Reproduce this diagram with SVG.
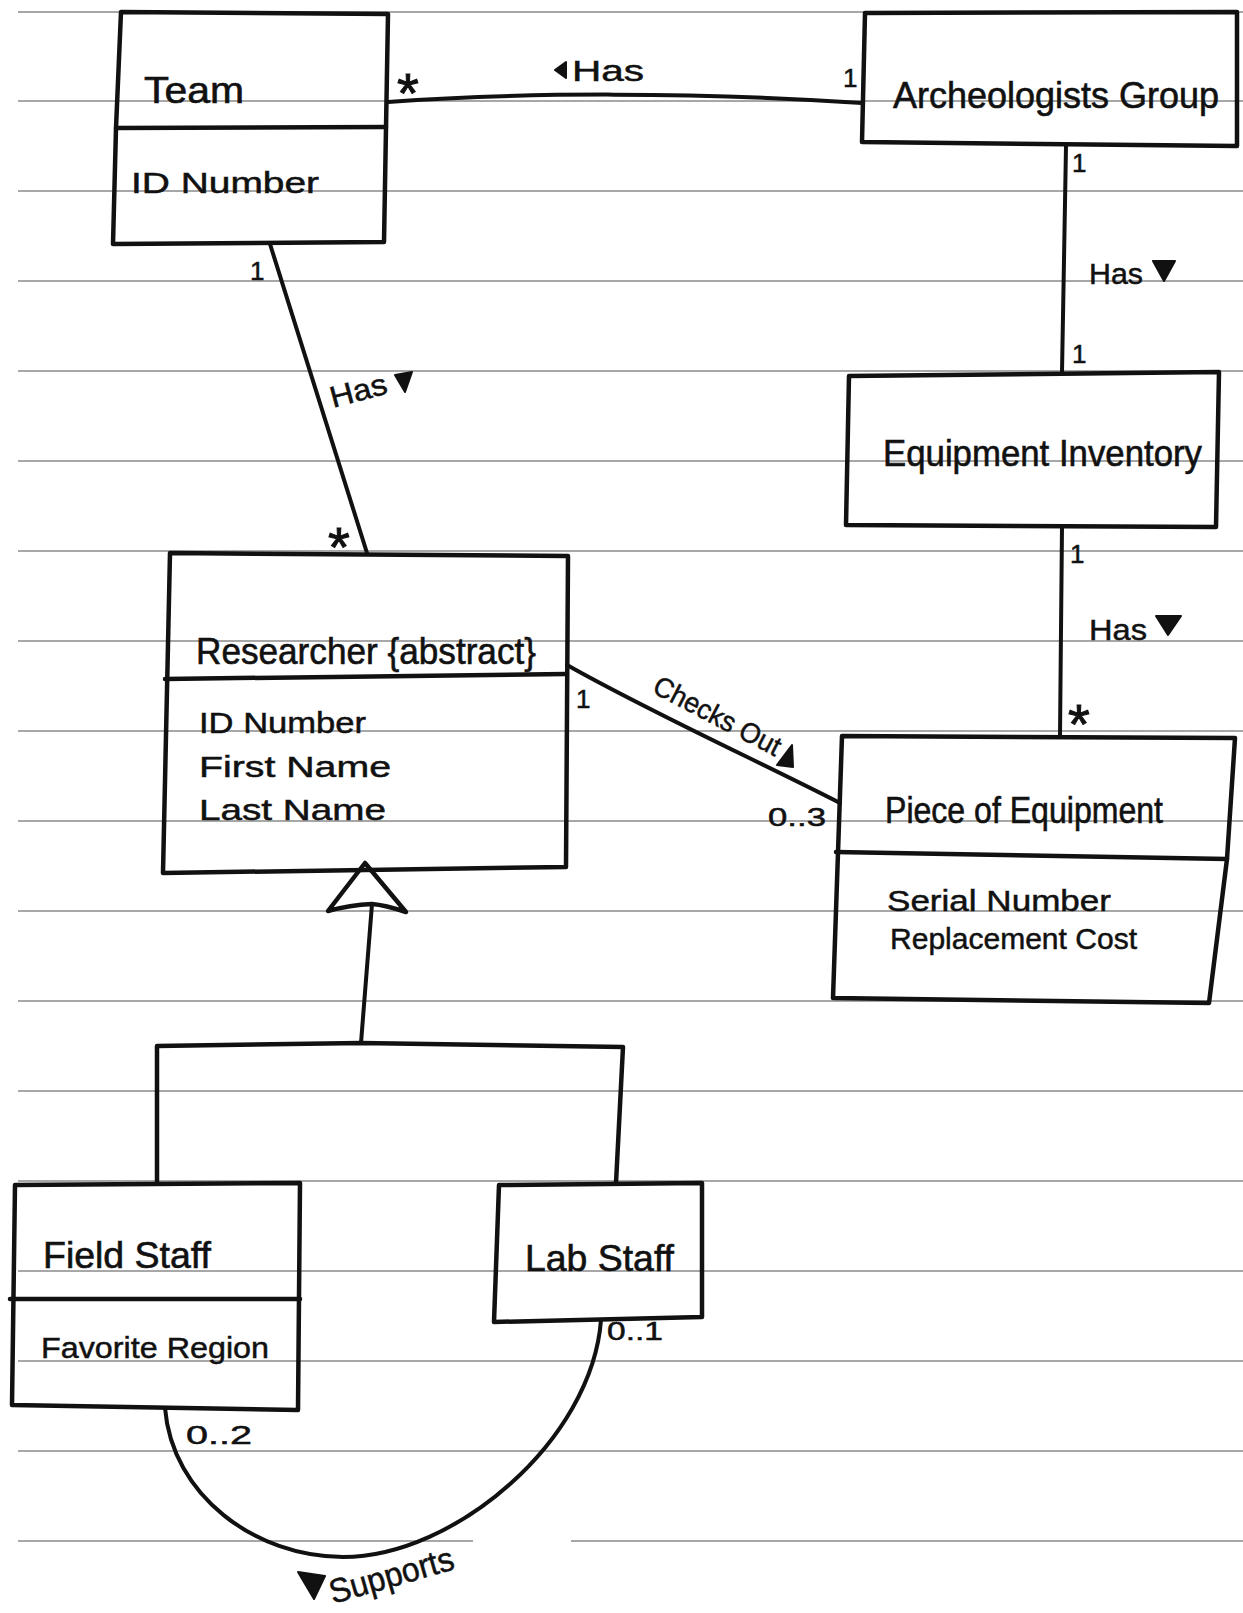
<svg xmlns="http://www.w3.org/2000/svg" width="1243" height="1613" viewBox="0 0 1243 1613">
<style>
.paper{stroke:#8a8a8a;stroke-width:1.6;fill:none}
.box{fill:none;stroke:#111;stroke-width:4.5;stroke-linejoin:round;stroke-linecap:round}
.ln{fill:none;stroke:#111;stroke-width:4;stroke-linecap:round;stroke-linejoin:round}
.t{font-family:"Liberation Sans",Arial,sans-serif;font-size:36px;fill:#111;stroke:#111;stroke-width:0.6}
.s{font-family:"Liberation Sans",Arial,sans-serif;font-size:30px;fill:#111;stroke:#111;stroke-width:0.5}
.m{font-family:"Liberation Sans",Arial,sans-serif;font-size:26px;fill:#111;stroke:#111;stroke-width:0.5}
.ast{font-family:"Liberation Sans",Arial,sans-serif;font-size:56px;fill:#111;stroke:#111;stroke-width:1}
.tri{fill:#111;stroke:#111;stroke-width:2;stroke-linejoin:round}
</style>
<rect width="1243" height="1613" fill="#ffffff"/>
<g id="paper-lines">
<path class="paper" d="M18,12H1243M18,101H1243M18,191H1243M18,281H1243M18,371H1243M18,461H1243M18,551H1243M18,641H1243M18,731H1243M18,821H1243M18,911H1243M18,1001H1243M18,1091H1243M18,1181H1243M18,1271H1243M18,1361H1243M18,1451H1243M18,1541H473M571,1541H1243"/>
</g>
<g id="connectors">
<path class="ln" d="M388,102 C520,92 700,92 862,103"/>
<path class="ln" d="M1066,146 L1064,260 L1062,372"/>
<path class="ln" d="M1062,527 L1061,630 L1060,736"/>
<path class="ln" d="M270,244 L367,553"/>
<path class="ln" d="M567,665 C650,712 760,762 840,803"/>
<path class="ln" d="M165,1408 C172,1495 255,1557 343,1557 C455,1557 592,1440 601,1320"/>
<g id="generalization">
<path class="ln" d="M372,904 L361,1043"/>
<path class="box" d="M365,863 L406,912 Q385,905 372,904 Q350,905 328,911 Z" fill="#fff"/>
<path class="box" d="M157,1183 L157,1046 L361,1043 L623,1047 L616,1183"/>
</g>
</g>
<g id="labels">
<text class="ast" x="397" y="112">*</text>
<text class="m" x="843" y="87">1</text>
<path class="tri" d="M566,62 L566,78 L555,70 Z"/>
<text class="s" x="572" y="81" textLength="72" lengthAdjust="spacingAndGlyphs">Has</text>
<text class="m" x="1072" y="172">1</text>
<text class="s" x="1089" y="284" textLength="54" lengthAdjust="spacingAndGlyphs">Has</text>
<path class="tri" d="M1153,261 L1175,261 L1164,281 Z"/>
<text class="m" x="1072" y="363">1</text>
<text class="m" x="1070" y="563">1</text>
<text class="s" x="1089" y="640" textLength="58" lengthAdjust="spacingAndGlyphs">Has</text>
<path class="tri" d="M1156,616 L1181,616 L1168,635 Z"/>
<text class="ast" x="1068" y="743">*</text>
<text class="m" x="250" y="280">1</text>
<text class="s" transform="translate(333,408) rotate(-15)" textLength="58" lengthAdjust="spacingAndGlyphs">Has</text>
<path class="tri" d="M395,375 L412,372 L405,392 Z"/>
<text class="ast" x="328" y="566">*</text>
<text class="m" x="576" y="708">1</text>
<text class="m" transform="translate(651,692) rotate(27.5)" style="font-size:28px" textLength="140" lengthAdjust="spacingAndGlyphs">Checks Out</text>
<path class="tri" d="M792,745 L793,767 L777,765 Z"/>
<text class="m" x="768" y="826" textLength="58" lengthAdjust="spacingAndGlyphs">0..3</text>
<text class="m" x="186" y="1444" textLength="66" lengthAdjust="spacingAndGlyphs">0..2</text>
<text class="m" x="607" y="1340" textLength="56" lengthAdjust="spacingAndGlyphs">0..1</text>
<path class="tri" d="M298,1572 L325,1576 L314,1599 Z"/>
<text class="s" transform="translate(333,1604) rotate(-16)" style="font-size:34px" textLength="128" lengthAdjust="spacingAndGlyphs">Supports</text>
</g>
<g id="node-team">
<path class="box" d="M121,12 L388,14 L386,128 L384,242 L113,244 L116,128 Z"/>
<path class="box" d="M116,128 L386,127"/>
<text class="t" x="144" y="103" textLength="100" lengthAdjust="spacingAndGlyphs">Team</text>
<text class="s" x="131" y="193" textLength="188" lengthAdjust="spacingAndGlyphs">ID Number</text>
</g>
<g id="node-archeologists-group">
<path class="box" d="M865,13 L1237,12 L1237,146 L862,142 Z"/>
<text class="t" x="893" y="108" textLength="326" lengthAdjust="spacingAndGlyphs">Archeologists Group</text>
</g>
<g id="node-equipment-inventory">
<path class="box" d="M849,376 L1219,372 L1216,527 L846,525 Z"/>
<text class="t" x="883" y="466" textLength="319" lengthAdjust="spacingAndGlyphs">Equipment Inventory</text>
</g>
<g id="node-researcher">
<path class="box" d="M170,553 L568,556 L566,867 L163,873 Z"/>
<path class="box" d="M165,679 L566,674"/>
<text class="t" x="196" y="664" textLength="340" lengthAdjust="spacingAndGlyphs">Researcher {abstract}</text>
<text class="s" x="199" y="733" textLength="167" lengthAdjust="spacingAndGlyphs">ID Number</text>
<text class="s" x="199" y="777" textLength="192" lengthAdjust="spacingAndGlyphs">First Name</text>
<text class="s" x="199" y="820" textLength="187" lengthAdjust="spacingAndGlyphs">Last Name</text>
</g>
<g id="node-piece-of-equipment">
<path class="box" d="M842,736 L1235,738 L1227,859 L1209,1003 L833,998 Z"/>
<path class="box" d="M836,852 L1227,859"/>
<text class="t" x="885" y="823" textLength="278" lengthAdjust="spacingAndGlyphs">Piece of Equipment</text>
<text class="s" x="887" y="911" textLength="224" lengthAdjust="spacingAndGlyphs">Serial Number</text>
<text class="s" x="890" y="949" textLength="247" lengthAdjust="spacingAndGlyphs">Replacement Cost</text>
</g>
<g id="node-field-staff">
<path class="box" d="M15,1185 L300,1183 L298,1410 L12,1405 Z"/>
<path class="box" d="M10,1299 L300,1299"/>
<text class="t" x="43" y="1268" textLength="168" lengthAdjust="spacingAndGlyphs">Field Staff</text>
<text class="s" x="41" y="1358" textLength="228" lengthAdjust="spacingAndGlyphs">Favorite Region</text>
</g>
<g id="node-lab-staff">
<path class="box" d="M499,1185 L702,1183 L702,1317 L494,1322 Z"/>
<text class="t" x="525" y="1271" textLength="149" lengthAdjust="spacingAndGlyphs">Lab Staff</text>
</g>
</svg>
